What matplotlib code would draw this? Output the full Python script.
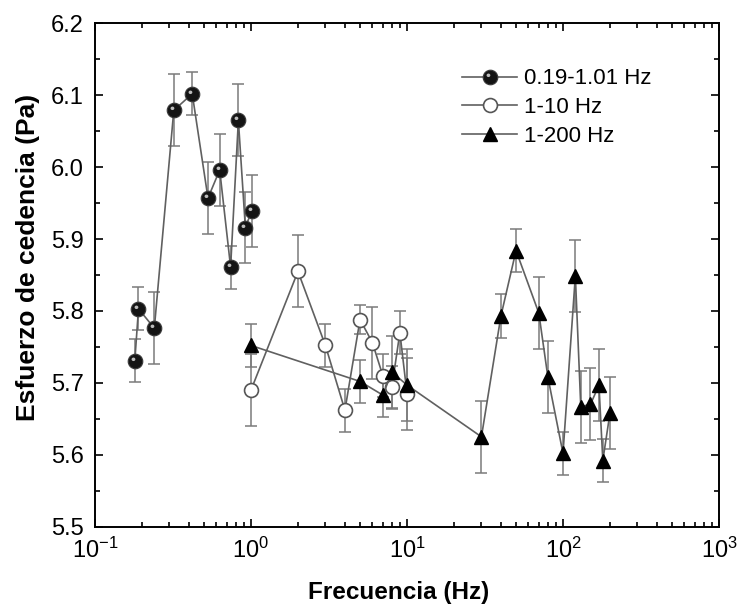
import numpy as np
import matplotlib.pyplot as plt
from matplotlib.path import Path
from matplotlib.legend_handler import HandlerTuple
from matplotlib.ticker import MultipleLocator, FormatStrFormatter

plt.rcParams['font.family'] = ['Liberation Sans', 'DejaVu Sans']

# 0.19-1.01 Hz sweep
f_low = [0.18, 0.19, 0.24, 0.32, 0.42, 0.53, 0.63, 0.74, 0.83, 0.92, 1.01]
y_low = [5.731, 5.803, 5.776, 6.079, 6.102, 5.957, 5.996, 5.861, 6.065, 5.916, 5.939]
e_low = [0.03, 0.03, 0.05, 0.05, 0.03, 0.05, 0.05, 0.03, 0.05, 0.05, 0.05]

# 1-10 Hz sweep
f_mid = [1, 2, 3, 4, 5, 6, 7, 8, 9, 10]
y_mid = [5.690, 5.855, 5.752, 5.662, 5.788, 5.756, 5.710, 5.694, 5.770, 5.685]
e_mid = [0.05, 0.05, 0.03, 0.03, 0.02, 0.05, 0.03, 0.03, 0.03, 0.05]

# 1-200 Hz sweep
f_high = [1, 5, 7, 8, 10, 30, 40, 50, 70, 80, 100, 120, 130, 150, 170, 180, 200]
y_high = [5.752, 5.702, 5.683, 5.715, 5.697, 5.625, 5.793, 5.884, 5.797, 5.708,
          5.602, 5.849, 5.667, 5.670, 5.697, 5.592, 5.658]
e_high = [0.03, 0.03, 0.03, 0.05, 0.05, 0.05, 0.03, 0.03, 0.05, 0.05,
          0.03, 0.05, 0.05, 0.05, 0.05, 0.03, 0.05]

labels = ["0.19-1.01 Hz", "1-10 Hz", "1-200 Hz"]

LINE_C = '#606060'
ERR_C = '#7a7a7a'


def highlight_marker():
    # small glossy spot up-left inside the ball; stray corner moves keep the scale
    t = np.linspace(0, 2 * np.pi, 30)
    verts = [(-1, -1), (1, 1)]
    codes = [Path.MOVETO, Path.MOVETO]
    circ = np.column_stack([-0.28 + 0.26 * np.cos(t), 0.30 + 0.24 * np.sin(t)])
    verts += [tuple(p) for p in circ]
    codes += [Path.MOVETO] + [Path.LINETO] * (len(circ) - 2) + [Path.CLOSEPOLY]
    return Path(verts, codes)


fig = plt.figure(figsize=(7.38, 6.16), dpi=100)
ax = fig.add_axes([95 / 738, 1 - 526.7 / 616, 624 / 738, 503.4 / 616])

for f, y, e in [(f_low, y_low, e_low), (f_mid, y_mid, e_mid), (f_high, y_high, e_high)]:
    ax.errorbar(f, y, yerr=e, fmt='none', ecolor=ERR_C, elinewidth=1.1,
                capsize=4.5, capthick=1.1, zorder=1)

h1, = ax.plot(f_low, y_low, '-', color=LINE_C, lw=1.2, marker='o', ms=10.5,
              mfc='#141414', mec='#3a3a3a', mew=0.8, zorder=3)
h1b, = ax.plot(f_low, y_low, ls='none', marker=highlight_marker(), ms=10.5,
               mfc='#bdbdbd', mec='none', zorder=4)
h2, = ax.plot(f_mid, y_mid, '-', color=LINE_C, lw=1.2, marker='o', ms=10,
              mfc='white', mec='#555555', mew=1.2, zorder=2)
h3, = ax.plot(f_high, y_high, '-', color=LINE_C, lw=1.2, marker='^', ms=10.5,
              mfc='black', mec='black', zorder=3)

ax.set_xscale('log')
ax.set_xlim(0.1, 1000)
ax.set_ylim(5.5, 6.2)
ax.yaxis.set_major_locator(MultipleLocator(0.1))
ax.yaxis.set_minor_locator(MultipleLocator(0.05))
ax.yaxis.set_major_formatter(FormatStrFormatter('%.1f'))

ax.tick_params(which='both', direction='in', top=True, right=True, width=1.2,
               labelsize=17, colors='black')
ax.tick_params(which='major', length=6, pad=8)
ax.tick_params(which='minor', length=3.5)
for s in ax.spines.values():
    s.set_linewidth(1.4)

ax.set_xlabel("Frecuencia (Hz)", fontsize=17.5, fontweight='bold')
ax.set_ylabel("Esfuerzo de cedencia (Pa)", fontsize=19, fontweight='bold')
ax.xaxis.set_label_coords(0.487, -0.107)
ax.yaxis.set_label_coords(-0.088, 0.534)

leg = ax.legend([(h1, h1b), h2, h3], labels,
                handler_map={tuple: HandlerTuple(ndivide=1, pad=0)},
                loc='upper left', bbox_to_anchor=(0.556, 0.95), frameon=False,
                fontsize=16, handlelength=2.5, handletextpad=0.3, labelspacing=0.35)

fig.savefig("out.png", dpi=100)
